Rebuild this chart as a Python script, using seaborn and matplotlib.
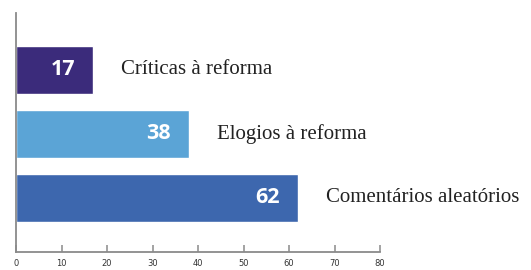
import matplotlib
matplotlib.use("Agg")
import matplotlib.pyplot as plt
import seaborn as sns
import pandas as pd

categories = ["Críticas à reforma", "Elogios à reforma", "Comentários aleatórios"]
values = [17, 38, 62]
colors = ["#3b2b7b", "#5ba4d6", "#3d67ae"]
xticks = [0, 10, 20, 30, 40, 50, 60, 70, 80]

sns.set_theme(style="white")
plt.rcParams['font.family'] = ['DejaVu Sans']

df = pd.DataFrame({"cat": categories, "val": values})

fig = plt.figure(figsize=(5.31, 2.70), dpi=100)
ax = fig.add_axes([16/531, 18/270, (380-16)/531, (252-13)/270])

sns.barplot(data=df, y="cat", x="val", hue="cat", palette=colors, orient="h",
            width=0.75, legend=False, ax=ax, saturation=1)

ax.set_xlim(0, 80)
ax.set_ylim(2.85, -0.89)
ax.set_xticks(xticks)
ax.set_xticklabels([str(t) for t in xticks], fontsize=6, color="#333333")
ax.set_yticks([])
ax.set_xlabel("")
ax.set_ylabel("")
for s in ["top", "right"]:
    ax.spines[s].set_visible(False)
for s in ["left", "bottom"]:
    ax.spines[s].set_color("#8a8a8a")
    ax.spines[s].set_linewidth(1.3)
ax.tick_params(axis="x", bottom=True, direction="in", length=5, width=1.1,
               color="#8a8a8a", pad=5)

for i, (c, v) in enumerate(zip(categories, values)):
    ax.annotate(str(v), xy=(v, i), xytext=(-13, 0), textcoords="offset points",
                ha="right", va="center", color="white", fontsize=15.5, fontweight="bold",
                family=["Open Sans", "DejaVu Sans"])
    ax.annotate(c, xy=(v, i), xytext=(20, 0), textcoords="offset points",
                ha="left", va="center", color="#222222", fontsize=15,
                family=["Liberation Serif", "DejaVu Serif"], annotation_clip=False)

fig.savefig("out.png", dpi=100)
